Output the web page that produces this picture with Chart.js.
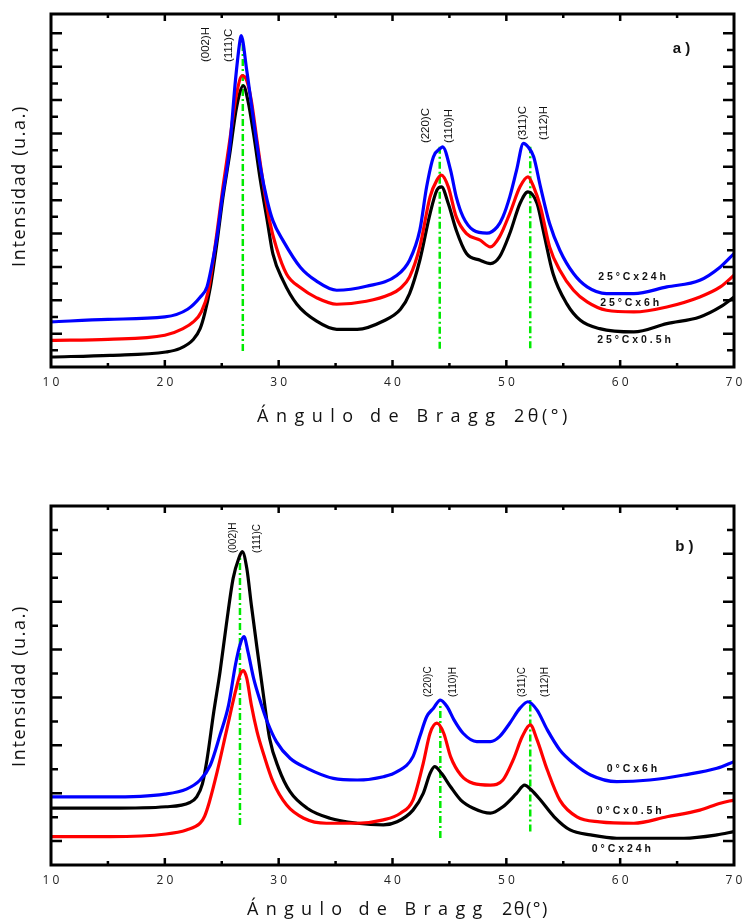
<!DOCTYPE html>
<html><head><meta charset="utf-8">
<script src="https://cdn.jsdelivr.net/npm/chart.js@4"></script>
<style>
html,body{margin:0;padding:0;background:#fff;width:742px;height:923px;overflow:hidden}
canvas{position:absolute;left:0}
#c1{top:0}
#c2{top:450px}
</style></head><body>
<canvas id="c1" width="742" height="450"></canvas>
<canvas id="c2" width="742" height="473"></canvas>
<script>
// ---------- DATA : panel a) 25 °C ----------
const angleA_24h = [10,15,20,22,23.1,23.7,24.1,24.6,25.0,25.7,26.2,26.6,26.7,27.2,27.8,28.4,29.0,29.5,30.4,31.9,33.3,35.1,37.7,40.4,41.5,42.4,43.0,43.6,44.2,44.4,45.1,45.6,46.2,47.1,48.3,49.2,49.7,50.3,50.9,51.5,51.9,52.4,53.0,53.8,54.7,55.9,57.1,58.8,61.2,64.1,67.0,68.8,70];
const intA_24h   = [270,286,300,346,418,480,600,790,996,1318,1716,1956,1986,1776,1476,1198,996,876,756,598,516,460,484,550,640,820,1080,1260,1310,1320,1180,1020,900,820,802,840,900,1020,1180,1340,1320,1260,1080,860,700,560,480,440,440,480,520,600,680];
const angleA_6h  = [10,15,20,21.6,22.5,23.2,23.8,24.6,25.1,25.7,26.3,26.8,27.2,27.6,28.1,28.7,29.2,29.8,30.7,31.9,33.3,35.1,37.7,39.8,40.7,41.5,42.4,43.3,43.9,44.3,44.9,45.6,46.5,47.7,48.6,49.4,50.3,51.2,51.9,52.4,53.0,53.8,54.7,55.9,57.1,58.8,61.2,64.1,67.0,68.8,70];
const intA_6h    = [160,166,190,230,270,330,450,816,1076,1356,1636,1746,1716,1596,1356,1076,876,716,556,476,416,376,394,436,472,540,720,1020,1120,1150,1080,900,800,760,720,780,920,1080,1140,1080,960,720,580,460,390,340,330,360,420,480,550];
const angleA_05h = [10,15.2,20.1,21.3,22.5,23.1,23.5,24.0,24.6,25.1,25.7,26.3,26.9,27.3,27.8,28.4,29.0,29.5,30.4,31.6,33.3,35.1,36.9,39.2,40.7,41.5,42.4,43.3,43.9,44.3,44.9,45.6,46.5,47.7,48.6,49.4,50.3,51.2,51.9,52.7,53.3,54.1,55.3,56.5,58.2,61.2,64.1,67.0,68.8,70];
const intA_05h   = [60,70,90,110,165,230,320,480,756,1016,1276,1556,1686,1596,1396,1116,876,676,516,376,276,226,226,276,346,440,640,920,1060,1080,980,820,680,640,620,660,800,980,1050,980,800,560,380,280,230,210,260,300,360,420];
const refAngleA  = [26.85,44.15,52.1];
const refTopA    = [1956,1330,1320];
const refBotA    = [96,110,112];
const peakTextA  = ['(002)H','(111)C','(220)C','(110)H','(311)C','(112)H'];
const peakXA     = [23.62,25.64,42.95,44.97,51.45,53.32];
const peakYA     = [1828,1828,1342,1342,1360,1360];
const seriesTextA= ['2 5 ° C x 2 4 h','2 5 ° C x 6 h','2 5 ° C x 0 . 5 h'];
const seriesXA   = [58.07,58.24,57.98];
const seriesYA   = [540,380,160];

// ---------- DATA : panel b) 0 °C ----------
const angleB_6h  = [10,15,20,21.9,23.1,24.0,24.85,25.6,26.2,26.6,26.95,27.3,27.8,28.4,29.0,29.8,31.0,32.5,34.8,36.9,39.2,40.4,41.8,42.4,43.0,43.6,44.2,44.8,45.4,46.2,47.4,48.6,49.4,50.3,51.2,51.9,52.7,53.6,54.7,55.9,57.4,59.7,62.6,65.6,68.5,70];
const intB_6h    = [285,285,297,318,356,419,545,670,838,922,957,894,782,684,600,517,447,405,363,356,370,391,454,538,621,657,691,663,608,552,517,517,538,594,657,684,649,566,482,426,377,349,356,377,405,433];
const angleB_05h = [10,15.2,20.1,21.9,23.1,23.5,23.9,24.6,25.4,26.2,26.6,26.9,27.2,27.6,28.1,28.7,29.5,30.7,32.2,34.2,36.9,39.2,40.7,41.8,42.7,43.3,43.9,44.5,45.1,46.0,47.1,48.6,49.7,50.6,51.4,52.1,52.7,53.6,54.7,56.2,58.2,61.2,64.1,67.0,68.8,70];
const intB_05h   = [119,119,130,147,175,205,262,391,559,726,796,814,782,670,559,461,349,251,196,175,175,189,217,272,426,552,594,552,454,377,342,335,356,440,538,587,524,398,272,202,181,175,202,230,259,272];
const angleB_24h = [10,15.2,20.1,22.2,22.8,23.3,23.7,24.3,24.85,25.4,26.0,26.5,26.8,27.2,27.6,28.1,28.7,29.2,30.0,31.0,32.5,34.5,36.9,39.2,40.4,41.8,42.7,43.3,43.7,44.3,45.1,46.0,47.1,48.6,49.7,50.9,51.6,52.2,53.0,54.2,55.6,57.4,59.7,62.6,65.6,68.5,70];
const intB_24h   = [238,238,244,262,285,340,440,642,810,1006,1201,1285,1313,1243,1089,908,698,531,405,307,238,196,175,168,181,230,300,384,412,384,328,272,238,217,244,300,335,314,272,202,147,126,112,112,112,126,140];
const refAngleB  = [26.6,44.2,52.1];
const refTopB    = [1299,679,691];
const refBotB    = [168,113,140];
const peakTextB  = ['(002)H','(111)C','(220)C','(110)H','(311)C','(112)H'];
const peakXB     = [25.99,28.10,43.13,45.33,51.36,53.41];
const peakYB     = [1307,1307,704,704,704,704];
const seriesTextB= ['0 ° C x 6 h','0 ° C x 0 . 5 h','0 ° C x 2 4 h'];
const seriesXB   = [58.83,57.95,57.51];
const seriesYB   = [401,226,66];

const xTitleWords = 'Ángulo\u200Ade\u2009Bragg';
const xTitleSym   = '2θ(°)';
const yTitle = 'Intensidad (u.a.)';

function pts(xs, ys){ return xs.map((x,i)=>({x:x, y:ys[i]})); }

function lineDs(xs, ys, color){
  return {data: pts(xs,ys), borderColor: color, borderWidth: 3.2, pointRadius: 0,
          cubicInterpolationMode:'monotone', fill:false};
}
function refDs(ax, top, bot){
  return ax.map((a,i)=>({data:[{x:a,y:bot[i]},{x:a,y:top[i]}], borderColor:'#00ea00', borderWidth:2.5,
    borderDash:[7,3,2,3], pointRadius:0, fill:false}));
}

function spaced(ctx, text, x, y, sp){
  if ('letterSpacing' in ctx) { ctx.letterSpacing = sp + 'px'; ctx.fillText(text, x, y); ctx.letterSpacing = '0px'; return; }
  let cx = x;
  for (const ch of text) { ctx.fillText(ch, cx, y); cx += ctx.measureText(ch).width + sp; }
}

function makeChart(id, cfg){
  const deco = {
    id:'deco',
    afterDraw(chart){
      const ctx = chart.ctx, a = chart.chartArea;
      const xs = chart.scales.x, ys = chart.scales.y;
      ctx.save();
      ctx.strokeStyle = '#000'; ctx.lineWidth = 3;
      ctx.strokeRect(a.left, a.top, a.right - a.left, a.bottom - a.top);
      ctx.lineWidth = 2.5;
      ctx.beginPath();
      xs.ticks.forEach(t=>{
        const px = xs.getPixelForValue(t.value);
        if (px < a.left + 3 || px > a.right - 3) return;
        const L = (t.value % 10 === 0) ? 7 : 4;
        ctx.moveTo(px, a.bottom); ctx.lineTo(px, a.bottom - L);
        ctx.moveTo(px, a.top); ctx.lineTo(px, a.top + L);
      });
      ys.ticks.forEach(t=>{
        const py = ys.getPixelForValue(t.value);
        if (py > a.bottom - 4 || py < a.top + 4) return;
        const major = (Math.round(t.value/100) % 2) === cfg.majorParity;
        const L = major ? 11 : 7;
        ctx.moveTo(a.left, py); ctx.lineTo(a.left + L, py);
        ctx.moveTo(a.right, py); ctx.lineTo(a.right - L, py);
      });
      ctx.stroke();
      // peak labels (rotated)
      ctx.fillStyle = '#111';
      ctx.font = cfg.peakFont;
      ctx.textAlign = 'left'; ctx.textBaseline = 'middle';
      cfg.peakText.forEach((s,i)=>{
        ctx.save();
        ctx.translate(xs.getPixelForValue(cfg.peakX[i]), ys.getPixelForValue(cfg.peakY[i]));
        ctx.rotate(-Math.PI/2);
        ctx.fillText(s, 0, 0);
        ctx.restore();
      });
      // series labels
      ctx.font = 'bold 10.5px "Liberation Sans", Arial, sans-serif';
      cfg.seriesText.forEach((s,i)=>{
        ctx.fillText(s, xs.getPixelForValue(cfg.seriesX[i]), ys.getPixelForValue(cfg.seriesY[i]));
      });
      // panel letter
      ctx.font = 'bold 15px "Liberation Sans", Arial, sans-serif';
      ctx.fillText(cfg.panel, xs.getPixelForValue(cfg.panelX), ys.getPixelForValue(cfg.panelY));
      // x axis title
      ctx.font = cfg.xTitleFont;
      ctx.textAlign = 'left';
      spaced(ctx, xTitleWords, cfg.xTitleX1, cfg.xTitleCy, cfg.xTitleSp1);
      spaced(ctx, xTitleSym, cfg.xTitleX2, cfg.xTitleCy, cfg.xTitleSp2);
      // y axis title
      ctx.font = '18px "Open Sans", sans-serif';
      ctx.save();
      ctx.translate(20, cfg.yTitleCy);
      ctx.rotate(-Math.PI/2);
      ctx.textAlign = 'left';
      const w = ('letterSpacing' in ctx) ? (ctx.letterSpacing='1.6px', ctx.measureText(yTitle).width) : ctx.measureText(yTitle).width;
      ctx.letterSpacing = '0px';
      spaced(ctx, yTitle, -w/2, 0, 1.6);
      ctx.restore();
      ctx.restore();
    }
  };
  return new Chart(document.getElementById(id), {
    type:'line',
    data:{datasets: cfg.datasets},
    options:{
      responsive:false, animation:false, devicePixelRatio:1,
      layout:{padding:{top:cfg.plotTop, right:8, left:0, bottom:0}},
      plugins:{legend:{display:false}, tooltip:{enabled:false}},
      scales:{
        x:{type:'linear', min:10, max:70,
           grid:{display:false, drawTicks:false}, border:{display:false},
           ticks:{stepSize:5, autoSkip:false, maxRotation:0, padding:8, color:'#222',
                  font:{family:'"Open Sans", sans-serif', size:12},
                  callback:(v)=> (v % 10 === 0) ? String(v).split('').join(' ') : ''},
           afterFit:(s)=>{ s.height = cfg.xAxisH; s.paddingLeft = 0; s.paddingRight = 0; }},
        y:{type:'linear', min:0, max:cfg.yMax,
           grid:{display:false, drawTicks:false}, border:{display:false},
           ticks:{stepSize:100, display:false},
           afterFit:(s)=>{ s.width = 51; s.paddingTop = 0; s.paddingBottom = 0; }}
      }
    },
    plugins:[deco]
  });
}

makeChart('c1', {
  datasets: [lineDs(angleA_24h,intA_24h,'#0000ff'), lineDs(angleA_6h,intA_6h,'#ff0000'),
             lineDs(angleA_05h,intA_05h,'#000000'), ...refDs(refAngleA, refTopA, refBotA)],
  plotTop:14, xAxisH: 450-367, yMax:2116, majorParity:0,
  peakText:peakTextA, peakX:peakXA, peakY:peakYA, peakFont:'11.5px "Liberation Sans", Arial, sans-serif',
  seriesText:seriesTextA, seriesX:seriesXA, seriesY:seriesYA,
  panel:'a )', panelX:64.62, panelY:1906,
  xTitleFont:'18px "Open Sans", sans-serif', xTitleX1:257, xTitleX2:514, xTitleCy:417,
  xTitleSp1:7.5, xTitleSp2:3.5, yTitleCy:186
});
makeChart('c2', {
  datasets: [lineDs(angleB_6h,intB_6h,'#0000ff'), lineDs(angleB_05h,intB_05h,'#ff0000'),
             lineDs(angleB_24h,intB_24h,'#000000'), ...refDs(refAngleB, refTopB, refBotB)],
  plotTop:56, xAxisH: 473-415, yMax:1504, majorParity:1,
  peakText:peakTextB, peakX:peakXB, peakY:peakYB, peakFont:'10px "Liberation Sans", Arial, sans-serif',
  seriesText:seriesTextB, seriesX:seriesXB, seriesY:seriesYB,
  panel:'b )', panelX:64.83, panelY:1334,
  xTitleFont:'18px "Open Sans", sans-serif', xTitleX1:247, xTitleX2:502, xTitleCy:460,
  xTitleSp1:7.3, xTitleSp2:1.5, yTitleCy:686-450
});
</script>
</body></html>
